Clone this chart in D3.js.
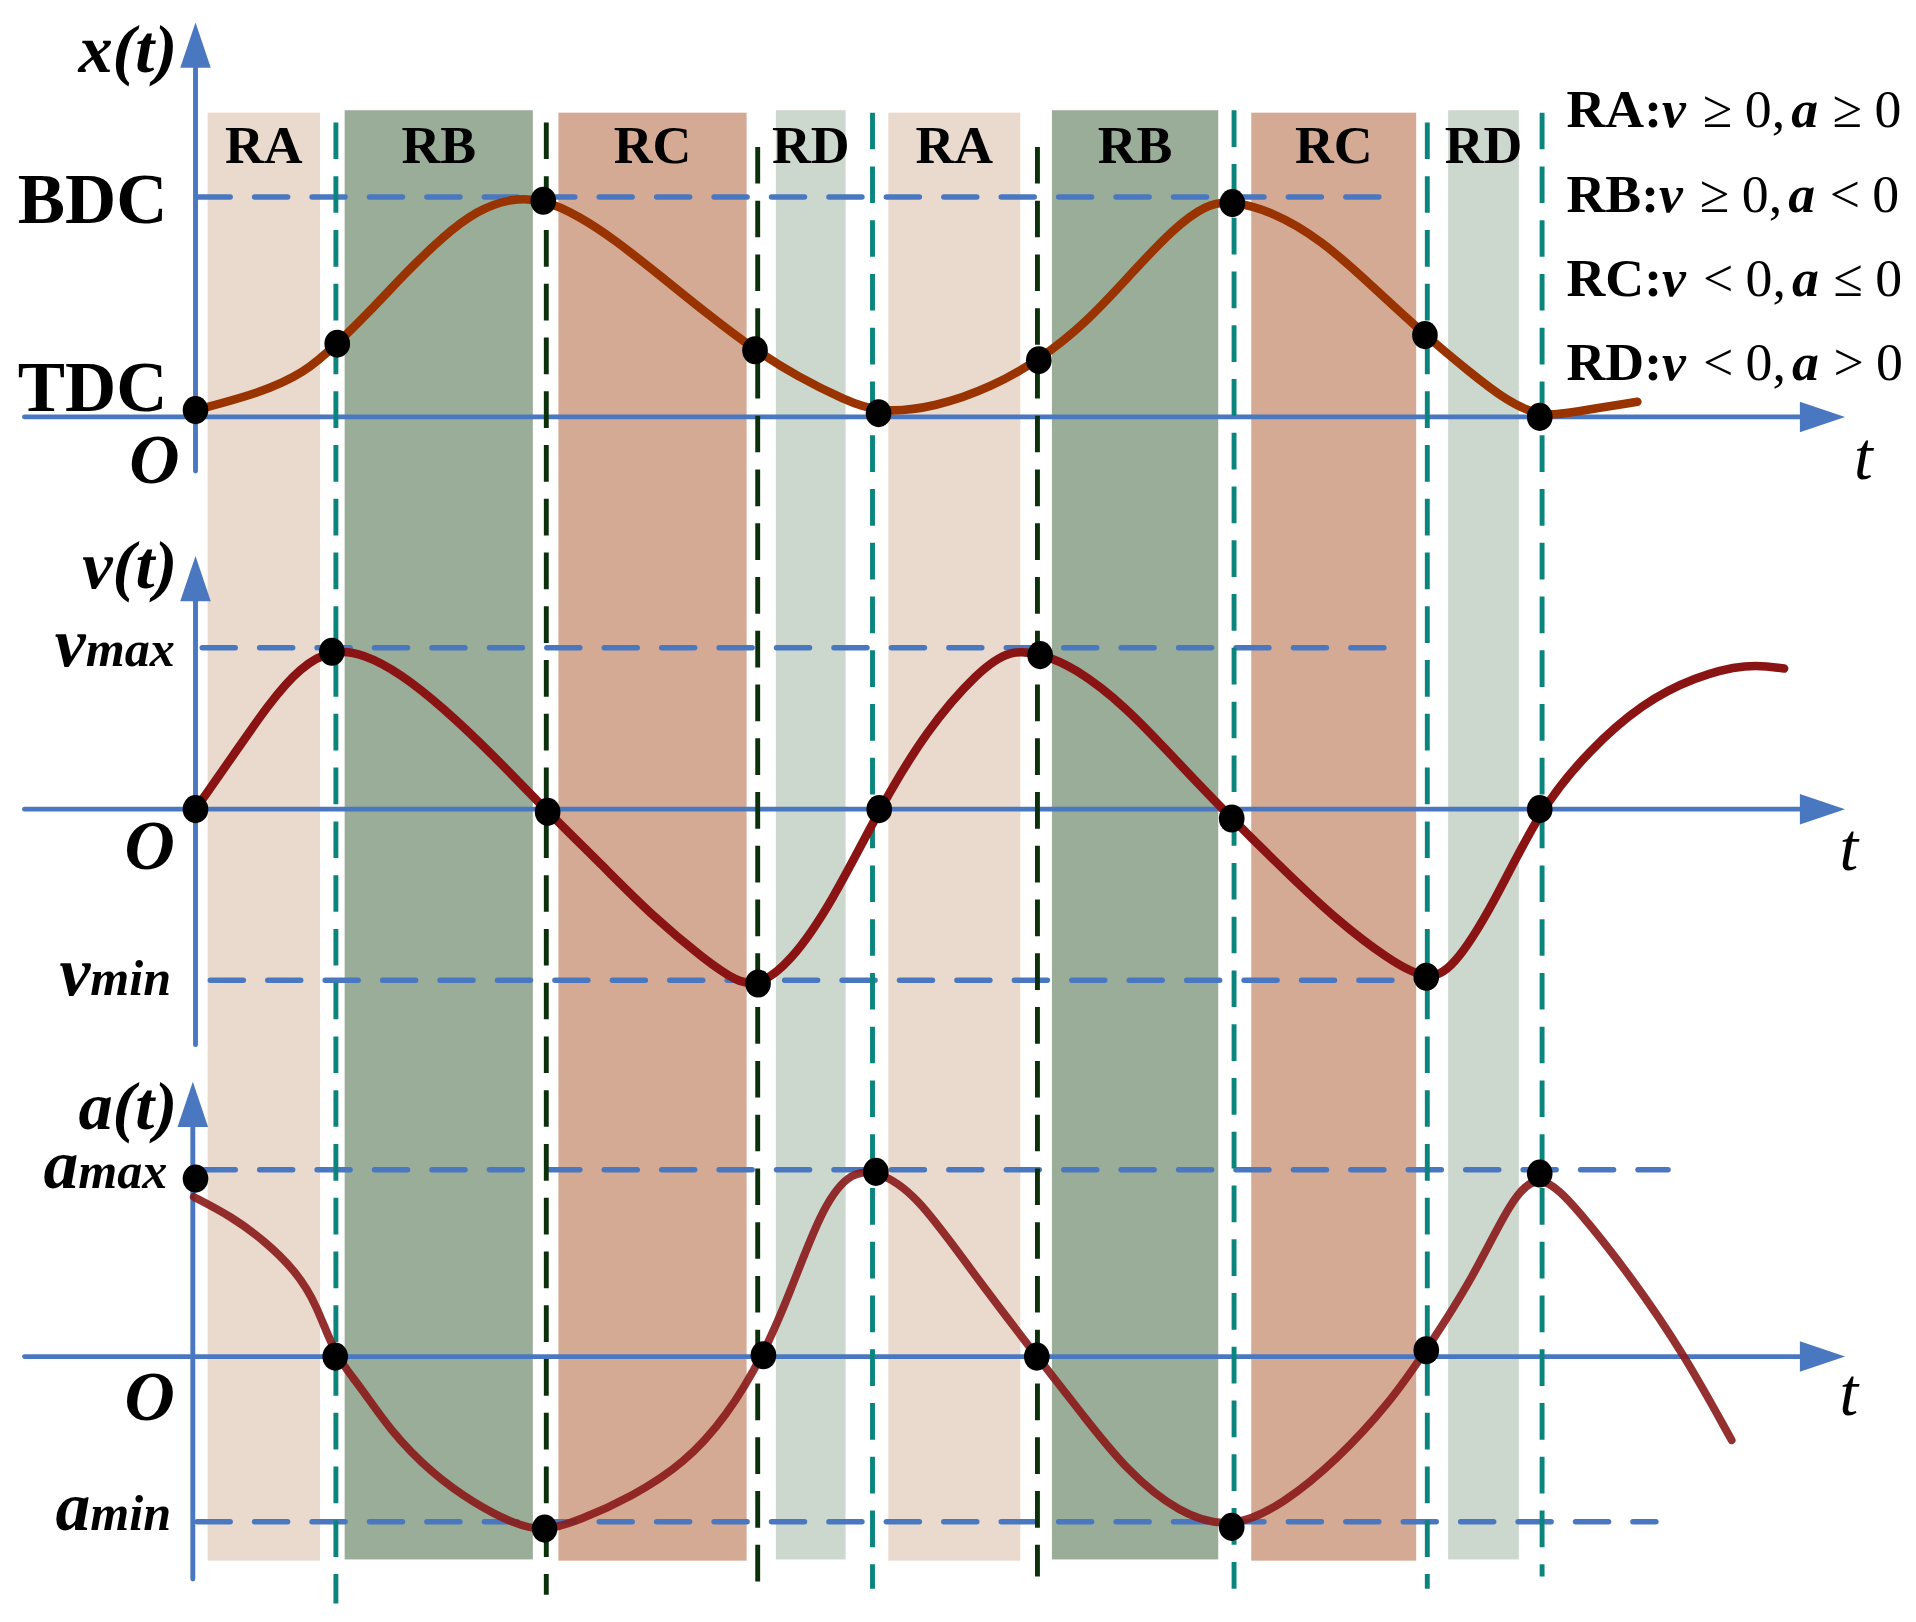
<!DOCTYPE html>
<html>
<head>
<meta charset="utf-8">
<script src="https://cdn.jsdelivr.net/npm/d3@7"></script>
<style>
  body { margin: 0; background: #fff; }
  text { font-family: "Liberation Serif", "Times New Roman", serif; fill: #000; }
</style>
</head>
<body>
<div id="chart"></div>
<script>
// ---- data (time in arbitrary units, values normalised to max = 1) ----
var regionNames = ["RA", "RB", "RC", "RD", "RA", "RB", "RC", "RD"];
var regionStart = [0.36, 4.43, 10.78, 17.24, 20.58, 25.44, 31.36, 37.21];
var regionEnd   = [3.70, 10.02, 16.37, 19.31, 24.50, 30.38, 36.26, 39.31];

var boundaryT    = [4.17, 10.42, 16.70, 20.11, 25.01, 30.85, 36.59, 40.0];
var boundaryType = ["teal", "dark", "dark", "teal", "dark", "teal", "teal", "teal"];

// displacement x(t)
var xCurveT = [0, 1.89, 3.25, 4.21, 5.30, 6.32, 7.33, 8.35, 9.39, 10.33, 11.42, 12.45, 13.83, 15.17, 16.62,
  17.89, 19.27, 20.29, 22.0, 23.7, 25.05, 26.46, 27.8, 29.0, 30.04, 30.8, 31.9, 33.45, 34.98, 36.52,
  37.88, 38.9, 39.93, 40.94, 42.83];
var xCurveV = [0.031, 0.107, 0.20, 0.333, 0.50, 0.667, 0.817, 0.939, 0.995, 0.99, 0.911, 0.806, 0.639, 0.472, 0.303,
  0.183, 0.078, 0.017, 0.044, 0.139, 0.258, 0.428, 0.652, 0.85, 0.97, 0.98, 0.94, 0.806, 0.591, 0.372,
  0.20, 0.078, 0.0, 0.022, 0.069];
var xDotT = [0, 4.21, 10.33, 16.62, 20.29, 25.05, 30.8, 36.52, 39.93];
var xDotV = [0.031, 0.333, 0.983, 0.303, 0.017, 0.258, 0.972, 0.372, 0.0];

// velocity v(t)
var vCurveT = [0, 1.09, 2.18, 3.12, 4.05, 4.99, 6.09, 7.33, 8.89, 10.46, 12.03, 13.59, 15.15, 16.08, 16.71,
  17.65, 18.9, 20.31, 21.71, 23.28, 24.21, 25.09, 26.09, 27.65, 29.21, 30.78, 32.34, 33.9, 35.46, 36.56,
  37.34, 38.58, 39.93, 41.4, 42.97, 44.53, 46.09, 47.19];
var vCurveV = [0, 0.324, 0.655, 0.883, 0.99, 0.965, 0.841, 0.635, 0.326, -0.017, -0.337, -0.667, -0.936, -1.07, -1.095,
  -0.957, -0.583, 0, 0.49, 0.862, 0.99, 0.965, 0.883, 0.635, 0.283, -0.058, -0.379, -0.688, -0.936, -1.06,
  -0.998, -0.583, 0, 0.366, 0.655, 0.82, 0.903, 0.872];
var vDotT = [0, 4.05, 10.46, 16.71, 20.31, 25.09, 30.78, 36.56, 39.93];
var vDotV = [0, 0.976, -0.017, -1.081, 0, 0.955, -0.058, -1.039, 0];

// acceleration a(t)
var aCurveT = [-0.05, 1.09, 2.03, 2.96, 3.59, 4.15, 4.84, 5.77, 7.02, 8.28, 9.52, 10.37, 11.4, 12.96, 14.52,
  15.77, 16.87, 17.65, 18.58, 19.37, 20.21, 21.4, 22.96, 24.99, 26.4, 27.65, 29.21, 30.78, 32.34, 33.9,
  35.46, 36.56, 37.97, 39.06, 39.93, 41.09, 42.65, 44.21, 45.63];
var aCurveV = [0.854, 0.747, 0.622, 0.462, 0.284, 0, -0.144, -0.394, -0.625, -0.786, -0.9, -0.935, -0.876, -0.75, -0.572,
  -0.322, 0.007, 0.337, 0.783, 0.98, 1.0, 0.872, 0.48, 0, -0.322, -0.608, -0.84, -0.925, -0.786, -0.554,
  -0.251, 0.034, 0.426, 0.837, 1.0, 0.783, 0.426, 0.016, -0.447];
var aDotT = [0, 4.15, 10.37, 16.87, 20.21, 24.99, 30.78, 36.56, 39.93];
var aDotV = [0.952, 0, -0.92, 0.007, 0.988, 0, -0.911, 0.034, 0.979];

// reference (dashed) levels
var xRefV = [1.0];              // BDC
var xRefEnd = [35.57];
var vRefV = [1.0, -1.06];       // vmax, vmin
var vRefEnd = [35.75, 36.48];
var aRefV = [1.0, -0.884];      // amax, amin
var aRefEnd = [43.74, 43.38];

var legendRegion = ["RA:", "RB:", "RC:", "RD:"];
var legendVRel   = ["\u2265", "\u2265", "<", "<"];
var legendARel   = ["\u2265", "<", "\u2264", ">"];

// ---- layout ----
var W = 1568, H = 1327;
var svg = d3.select("#chart").append("svg")
  .attr("width", 1916).attr("height", 1622)
  .attr("viewBox", `0 0 ${W} ${H}`);

var tScale = d3.scaleLinear().domain([0, 40]).range([160, 1262]);

var panels = [
  { y: d3.scaleLinear().domain([0, 1]).range([341, 161]), axisLo: -0.246, axisHi: 1.793, axisX: 0,
    curveT: xCurveT, curveV: xCurveV, dotT: xDotT, dotV: xDotV, color: "#993300", opacity: 1, width: 7,
    refV: xRefV, refEnd: xRefEnd, refStart: [0.05] },
  { y: d3.scaleLinear().domain([0, 1]).range([662, 530]), axisLo: -1.46, axisHi: 1.57, axisX: 0,
    curveT: vCurveT, curveV: vCurveV, dotT: vDotT, dotV: vDotV, color: "#8a1414", opacity: 1, width: 7,
    refV: vRefV, refEnd: vRefEnd, refStart: [0.2, 0.44] },
  { y: d3.scaleLinear().domain([0, 1]).range([1110, 957]), axisLo: -1.19, axisHi: 1.47, axisX: -0.08,
    curveT: aCurveT, curveV: aCurveV, dotT: aDotT, dotV: aDotV, color: "#8a1a1a", opacity: 0.9, width: 6.5,
    refV: aRefV, refEnd: aRefEnd, refStart: [0.2, 0.05] }
];

var blue = "#4a78c0";
var bandColors = { RA: "#eadacd", RB: "#9aad98", RC: "#d5aa95", RD: "#ccd7cd" };
var lineColors = { teal: "#0a857d", dark: "#0b300b" };
var lineTop = [100, 100, 120, 92, 120, 90, 100, 92];
var lineBottom = [1312, 1305, 1298, 1300, 1290, 1300, 1300, 1290];

// background bands
svg.append("g").selectAll("rect")
  .data(regionNames)
  .enter().append("rect")
  .attr("x", (d, i) => tScale(regionStart[i]))
  .attr("width", (d, i) => tScale(regionEnd[i]) - tScale(regionStart[i]))
  .attr("y", (d, i) => i % 2 ? 90 : 92)
  .attr("height", (d, i) => i % 2 ? 1186 : 1185)
  .attr("fill", d => bandColors[d]);

// region labels
svg.append("g").selectAll("text")
  .data(regionNames)
  .enter().append("text")
  .attr("x", (d, i) => tScale((regionStart[i] + regionEnd[i]) / 2))
  .attr("y", 133)
  .attr("text-anchor", "middle")
  .style("font-size", "44px")
  .style("font-weight", "bold")
  .text(d => d);

// horizontal dashed reference lines
panels.forEach(function (p) {
  svg.append("g").selectAll("line")
    .data(p.refV)
    .enter().append("line")
    .attr("x1", (d, i) => tScale(p.refStart[i]))
    .attr("x2", (d, i) => tScale(p.refEnd[i]))
    .attr("y1", d => p.y(d))
    .attr("y2", d => p.y(d))
    .attr("stroke", blue)
    .attr("stroke-width", 4.5)
    .attr("stroke-linecap", "round")
    .attr("stroke-dasharray", "27,20");
});

// axes with arrow heads
function arrow(g, x1, y1, x2, y2) {
  var len = 37, half = 12.5;
  var dx = x2 - x1, dy = y2 - y1, L = Math.hypot(dx, dy);
  var ux = dx / L, uy = dy / L;
  var bx = x2 - ux * len, by = y2 - uy * len;
  g.append("line")
    .attr("x1", x1).attr("y1", y1).attr("x2", bx).attr("y2", by)
    .attr("stroke", blue).attr("stroke-width", 4).attr("stroke-linecap", "round");
  g.append("path")
    .attr("d", `M${x2},${y2}L${bx - uy * half},${by + ux * half}L${bx + uy * half},${by - ux * half}Z`)
    .attr("fill", blue);
}
var axesG = svg.append("g");
panels.forEach(function (p) {
  arrow(axesG, tScale(-5.08), p.y(0), tScale(49.0), p.y(0));
  arrow(axesG, tScale(p.axisX), p.y(p.axisLo), tScale(p.axisX), p.y(p.axisHi));
});

// vertical dashed boundaries
svg.append("g").selectAll("line")
  .data(boundaryT)
  .enter().append("line")
  .attr("x1", d => tScale(d))
  .attr("x2", d => tScale(d))
  .attr("y1", (d, i) => lineTop[i])
  .attr("y2", (d, i) => lineBottom[i])
  .attr("stroke", (d, i) => lineColors[boundaryType[i]])
  .attr("stroke-width", 4)
  .attr("stroke-dasharray", "30,14");

// curves (smoothed B-spline through the read points) and dots
panels.forEach(function (p) {
  var line = d3.line()
    .x(d => tScale(d[0]))
    .y(d => p.y(d[1]))
    .curve(d3.curveBasis);
  svg.append("path")
    .datum(d3.zip(p.curveT, p.curveV))
    .attr("d", line)
    .attr("fill", "none")
    .attr("stroke", p.color)
    .attr("stroke-opacity", p.opacity)
    .attr("stroke-width", p.width)
    .attr("stroke-linecap", "round");
  svg.append("g").selectAll("ellipse")
    .data(d3.zip(p.dotT, p.dotV))
    .enter().append("ellipse")
    .attr("cx", d => tScale(d[0]))
    .attr("cy", d => p.y(d[1]))
    .attr("rx", 10.5)
    .attr("ry", 11.5)
    .attr("fill", "#000");
});

// axis labels
var lab = svg.append("g");
function label(x, y, txt, size, weight, style, anchor) {
  return lab.append("text").attr("x", x).attr("y", y)
    .attr("text-anchor", anchor || "end")
    .style("font-size", size + "px")
    .style("font-weight", weight)
    .style("font-style", style)
    .text(txt);
}
label(145, 59, "x(t)", 56, "bold", "italic");
label(145, 481, "v(t)", 56, "bold", "italic");
label(145, 924, "a(t)", 56, "bold", "italic");
label(147, 395, "O", 57, "bold", "italic");
label(143, 711, "O", 57, "bold", "italic");
label(143, 1162, "O", 57, "bold", "italic");
label(1525, 392, "t", 55, "normal", "italic", "middle");
label(1513, 712, "t", 55, "normal", "italic", "middle");
label(1513, 1158, "t", 55, "normal", "italic", "middle");
label(137, 182, "BDC", 58, "bold", "normal");
label(137, 336, "TDC", 58, "bold", "normal");

function subLabel(x, y, main, sub) {
  var t = lab.append("text").attr("x", x).attr("y", y).attr("text-anchor", "end")
    .style("font-style", "italic").style("font-weight", "bold");
  t.append("tspan").style("font-size", "57px").text(main);
  t.append("tspan").style("font-size", "41px").text(sub);
}
subLabel(143, 545, "v", "max");
subLabel(140, 814, "v", "min");
subLabel(137, 972, "a", "max");
subLabel(140, 1252, "a", "min");

// legend
var leg = svg.append("g").selectAll("text")
  .data(legendRegion)
  .enter().append("text")
  .attr("x", 1282)
  .attr("y", (d, i) => 104 + i * 69)
  .style("font-size", "44px");
leg.append("tspan").style("font-weight", "bold").text(d => d);
leg.append("tspan").style("font-weight", "bold").style("font-style", "italic").text("v");
leg.append("tspan").attr("dx", 14).text((d, i) => legendVRel[i]);
leg.append("tspan").attr("dx", 10).text("0,");
leg.append("tspan").attr("dx", 5).style("font-weight", "bold").style("font-style", "italic").text("a");
leg.append("tspan").attr("dx", 12).text((d, i) => legendARel[i]);
leg.append("tspan").attr("dx", 10).text("0");
</script>
</body>
</html>
